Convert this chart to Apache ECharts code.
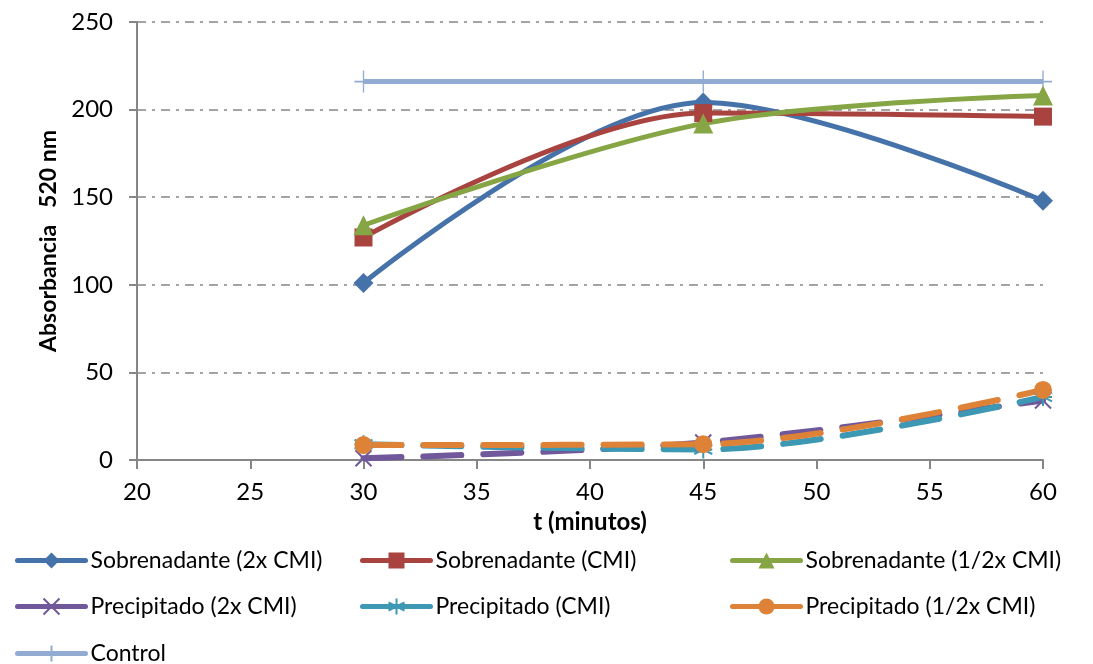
<!DOCTYPE html>
<html>
<head>
<meta charset="utf-8">
<script src="https://cdn.jsdelivr.net/npm/echarts@6/dist/echarts.min.js"></script>
<style>html,body{margin:0;padding:0;background:#fff}#c{width:1093px;height:664px}</style>
</head>
<body>
<div id="c"></div>
<script>
const times = [30, 45, 60];
const seriesNames = [
  'Sobrenadante (2x CMI)', 'Sobrenadante (CMI)', 'Sobrenadante (1/2x CMI)',
  'Precipitado (2x CMI)', 'Precipitado (CMI)', 'Precipitado (1/2x CMI)', 'Control'
];
const sob2x = [101, 204, 148];
const sobCMI = [127, 198, 196];
const sobHalf = [134, 192, 208];
const prec2x = [1, 10, 34];
const precCMI = [9, 6, 36];
const precHalf = [8.5, 9, 40];
const control = [216, 216, 216];
const xTicks = {min: 20, max: 60, interval: 5};
const yTicks = {min: 0, max: 250, interval: 50};

const FONT = 'Lato';
const SMOOTH = 0.33;
const pair = v => v.map((y, i) => [times[i], y]);

const crossPath = 'path://M0,0L10,10M10,0L0,10';
const starPath = 'path://M5,0L5,10M0,2.5L10,7.5M10,2.5L0,7.5M0,5L10,5';
const plusPath = 'path://M5,0L5,20M0,10L10,10';

function solid(name, data, color, symbol, size) {
  return {
    name, type: 'line', data: pair(data), smooth: SMOOTH,
    symbol, symbolSize: size, showSymbol: true,
    lineStyle: {color, width: 5, cap: 'round'},
    itemStyle: {color, borderColor: color, borderWidth: 0},
    emphasis: {disabled: true}, z: 3
  };
}
function dashed(name, data, color, symbol, size, stroke) {
  return {
    name, type: 'line', data: pair(data), smooth: SMOOTH,
    symbol, symbolSize: size, showSymbol: true,
    lineStyle: {color, width: 6, type: [38, 22], cap: 'round'},
    itemStyle: stroke ? {color: 'none', borderColor: color, borderWidth: 2} : {color},
    emphasis: {disabled: true}, z: 3
  };
}

const colors = ['#4672AA', '#A9433F', '#86A545', '#71589A', '#3D98B3', '#DE8238', '#92ABD2'];

const series = [
  solid(seriesNames[0], sob2x, colors[0], 'diamond', 20),
  solid(seriesNames[1], sobCMI, colors[1], 'rect', 18),
  solid(seriesNames[2], sobHalf, colors[2], 'triangle', 20),
  dashed(seriesNames[3], prec2x, colors[3], crossPath, 16, true),
  dashed(seriesNames[4], precCMI, colors[4], starPath, 18, true),
  dashed(seriesNames[5], precHalf, colors[5], 'circle', 18, false),
  {
    name: seriesNames[6], type: 'line', data: pair(control), smooth: false,
    symbol: plusPath, symbolSize: [18, 22], showSymbol: true,
    lineStyle: {color: colors[6], width: 5},
    itemStyle: {color: 'none', borderColor: colors[6], borderWidth: 1.5},
    emphasis: {disabled: true}, z: 2
  }
];

const legendPos = [
  [10, 544], [355, 544], [725, 544],
  [10, 590], [355, 590], [725, 590],
  [10, 637]
];
const legends = seriesNames.map((n, i) => ({
  data: [n], left: legendPos[i][0], top: legendPos[i][1],
  itemWidth: 68, itemHeight: 20, itemGap: 5, selectedMode: false,
  lineStyle: {width: 5, type: 'solid', cap: 'round'},
  textStyle: {fontFamily: FONT, fontSize: 23, color: '#000'}
}));

const chart = echarts.init(document.getElementById('c'), null, {renderer: 'canvas'});
chart.setOption({
  animation: false,
  backgroundColor: '#fff',
  color: colors,
  textStyle: {fontFamily: FONT},
  legend: legends,
  grid: {left: 137, right: 50, top: 22, bottom: 204, containLabel: false},
  xAxis: {
    type: 'value', min: xTicks.min, max: xTicks.max, interval: xTicks.interval,
    name: 't (minutos)', nameLocation: 'middle', nameGap: 50,
    nameTextStyle: {fontFamily: FONT, fontSize: 24, fontWeight: 'bold', color: '#000'},
    axisLine: {show: true, lineStyle: {color: '#868686', width: 2}},
    axisTick: {show: true, length: 9, lineStyle: {color: '#868686', width: 2}},
    axisLabel: {fontFamily: FONT, fontSize: 24, color: '#000', margin: 20},
    splitLine: {show: false}
  },
  yAxis: {
    type: 'value', min: yTicks.min, max: yTicks.max, interval: yTicks.interval,
    name: 'Absorbancia   520 nm', nameLocation: 'middle', nameGap: 75, nameRotate: 90,
    nameTextStyle: {fontFamily: FONT, fontSize: 23, fontWeight: 'bold', color: '#000'},
    axisLine: {show: true, lineStyle: {color: '#868686', width: 2}},
    axisTick: {show: true, length: 8, lineStyle: {color: '#868686', width: 2}},
    axisLabel: {fontFamily: FONT, fontSize: 24, color: '#000', margin: 24},
    splitLine: {show: true, lineStyle: {color: '#868686', width: 1.5, type: [9, 6, 3, 6]}}
  },
  series
});
</script>
</body>
</html>
